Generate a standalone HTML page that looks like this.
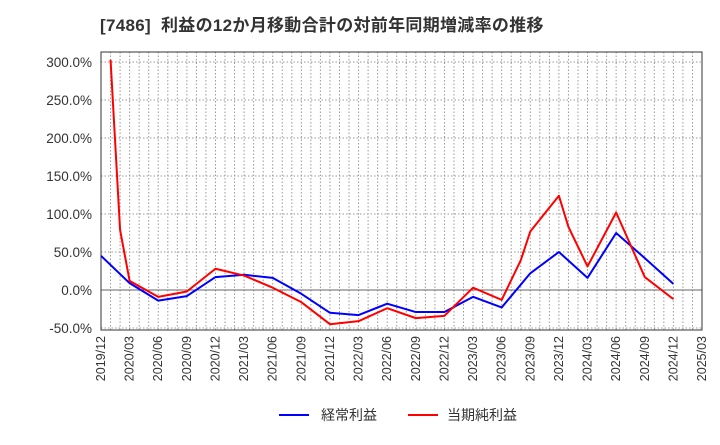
<!DOCTYPE html>
<html><head><meta charset="utf-8"><style>
body{margin:0;background:#fff;font-family:"Liberation Sans","Noto Sans CJK JP",sans-serif}
</style></head><body>
<svg id="c" width="720" height="440" xmlns="http://www.w3.org/2000/svg">
<text x="100" y="31" font-size="17" letter-spacing="0.3" font-weight="bold" fill="#333" font-family="Liberation Sans, Noto Sans CJK JP, sans-serif" xml:space="preserve">[7486]  利益の12か月移動合計の対前年同期増減率の推移</text>
<g id="grid"></g><g id="axes"></g><g id="series"></g>
<g>
<line x1="279" y1="415" x2="309" y2="415" stroke="#0000ff" stroke-width="2"/>
<text x="321" y="420" font-size="14" fill="#333" font-family="Liberation Sans, Noto Sans CJK JP, sans-serif">経常利益</text>
<line x1="408" y1="415" x2="438" y2="415" stroke="#ff0000" stroke-width="2"/>
<text x="447" y="420" font-size="14" fill="#333" font-family="Liberation Sans, Noto Sans CJK JP, sans-serif">当期純利益</text>
</g>
</svg>
<script>
const xLabels=["2019/12","2020/03","2020/06","2020/09","2020/12","2021/03","2021/06","2021/09","2021/12","2022/03","2022/06","2022/09","2022/12","2023/03","2023/06","2023/09","2023/12","2024/03","2024/06","2024/09","2024/12","2025/03"];
const yTicks=[-50,0,50,100,150,200,250,300];
const blueMonths=[0,3,6,9,12,15,18,21,24,27,30,33,36,39,42,45,48,51,54,57,60];
const blueValues=[45,9,-14,-8,17,20,16,-5,-30,-33,-18,-29,-29,-9,-23,22,50,16,75,42,8];
const redMonths=[1,2,3,6,9,12,15,18,21,24,27,30,33,36,39,42,44,45,48,49,51,54,57,60];
const redValues=[303,79,12,-9,-2,28,19,3,-16,-45,-41,-24,-37,-34,3,-13,39,77,124,83,31,102,17,-12];
const L=101,R=702,T=52,B=330,NM=63;
const X=m=>L+(R-L)*m/NM;
const Y=v=>290-v*0.76;
const ns="http://www.w3.org/2000/svg";
function mk(t,a,p){const e=document.createElementNS(ns,t);for(const k in a)e.setAttribute(k,a[k]);p.appendChild(e);return e;}
const grid=document.getElementById('grid'),axes=document.getElementById('axes'),ser=document.getElementById('series');
for(let m=1;m<NM;m++){const l=mk('line',{x1:X(m),x2:X(m),y1:T,y2:B,stroke:'#999','stroke-dasharray':'1.5,2','stroke-width':1},grid);

}
yTicks.forEach(v=>{const l=mk('line',{x1:L,x2:R,y1:Y(v),y2:Y(v),stroke:v===0?'#666':'#999','stroke-dasharray':v===0?'':'1.5,2','stroke-width':1},grid);


const t=mk('text',{x:L-9,y:Y(v)+5,'text-anchor':'end','font-size':13.5,fill:'#333'},axes);t.textContent=v.toFixed(1)+'%';

});
const f=mk('rect',{x:L,y:T,width:R-L,height:B-T,fill:'none',stroke:'#333','stroke-width':1},axes);


xLabels.forEach((s,i)=>{const x=X(i*3);const t=mk('text',{x:x+4,y:B+6,'text-anchor':'end','font-size':12.5,fill:'#333',transform:`rotate(-90 ${x+4} ${B+6})`},axes);t.textContent=s;

});
function line(ms,vs,c,n){const p=mk('polyline',{points:ms.map((m,i)=>X(m)+','+Y(vs[i])).join(' '),fill:'none',stroke:c,'stroke-width':2,'stroke-linejoin':'round'},ser);

}
line(blueMonths,blueValues,'#0000ff','ordinary-profit-line');
line(redMonths,redValues,'#ff0000','net-profit-line');
</script>
</body></html>
